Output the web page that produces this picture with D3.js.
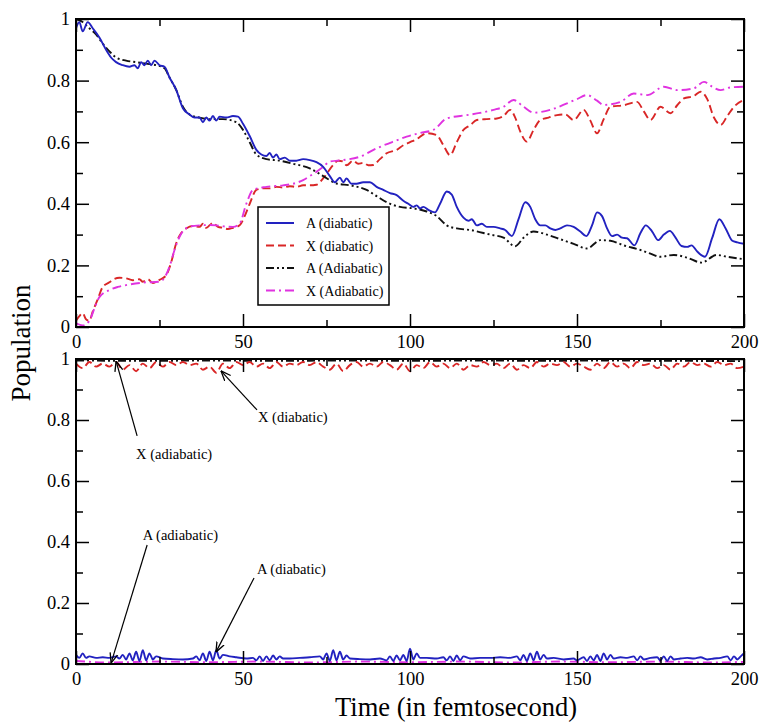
<!DOCTYPE html>
<html>
<head>
<meta charset="utf-8">
<script src="https://cdn.jsdelivr.net/npm/d3@7"></script>
<style>
  body { margin: 0; background: #fff; }
  text { font-family: "Liberation Serif", "Times New Roman", serif; fill: #000; }
</style>
</head>
<body>
<script>
var width = 759, height = 723;

// ---- data (time in fs, population) ----
var xTickValues = [0, 50, 100, 150, 200];
var xTickLabels = ["0", "50", "100", "150", "200"];
var xMinorTicks = [25, 75, 125, 175];
var yTickValues = [0, 0.2, 0.4, 0.6, 0.8, 1];
var yTickLabels = ["0", "0.2", "0.4", "0.6", "0.8", "1"];
var yMinorTicks = [0.1, 0.3, 0.5, 0.7, 0.9];

// top panel
var aDiabaticTop = [[0,0.97],[1,0.99],[2,0.96],[3.5,0.99],[5,0.97],[7,0.94],[9,0.90],[10.5,0.875],[12,0.86],[14,0.85],[16,0.845],[17.5,0.85],[18.5,0.84],[19.5,0.86],[20.5,0.85],[21.5,0.865],[22.5,0.85],[23.5,0.865],[25,0.85],[26.5,0.845],[28,0.81],[30,0.77],[32,0.71],[34,0.69],[35.5,0.68],[37,0.68],[38,0.665],[39,0.68],[40,0.67],[41,0.685],[42,0.67],[43,0.683],[45,0.68],[47,0.685],[48.5,0.683],[50,0.66],[52,0.62],[54,0.575],[55.5,0.56],[57,0.555],[58,0.565],[59,0.55],[60,0.56],[61,0.545],[62.5,0.55],[64,0.54],[66,0.54],[68,0.545],[70,0.542],[72,0.535],[74,0.52],[76,0.49],[77.5,0.47],[79,0.485],[80,0.47],[81,0.482],[82.5,0.465],[84,0.465],[86,0.47],[88,0.47],[90,0.455],[92,0.445],[94,0.435],[96,0.428],[98,0.41],[99.5,0.40],[101,0.39],[102,0.395],[103,0.385],[104,0.39],[105.5,0.38],[107.5,0.372],[109,0.40],[111,0.44],[112.5,0.43],[114,0.39],[116,0.355],[117.5,0.345],[118.5,0.35],[120,0.33],[121.5,0.335],[123,0.325],[125,0.325],[127,0.32],[128.5,0.315],[130.5,0.295],[132.5,0.35],[134.5,0.405],[136,0.39],[137.5,0.35],[139,0.33],[140.5,0.33],[142,0.32],[143.5,0.315],[145,0.32],[147,0.33],[149,0.325],[151,0.31],[152.8,0.295],[154.5,0.33],[156,0.372],[157.5,0.36],[159,0.32],[160.5,0.295],[162,0.30],[163.5,0.29],[165,0.288],[167.2,0.265],[169,0.305],[170.6,0.33],[172.5,0.31],[174.3,0.282],[176,0.30],[177.8,0.312],[179.5,0.29],[181.3,0.263],[183,0.26],[184.3,0.265],[186,0.245],[188.3,0.228],[190.5,0.29],[192.6,0.35],[194.5,0.32],[196.5,0.28],[198,0.275],[200,0.27]];
var xDiabaticTop = [[0,0.02],[1,0.035],[2,0.045],[3,0.025],[4,0.02],[5,0.05],[6.5,0.09],[8,0.13],[10,0.145],[11,0.153],[13,0.16],[15,0.158],[17,0.152],[19,0.155],[20,0.147],[21.5,0.155],[23,0.143],[25,0.153],[27,0.168],[28.5,0.21],[30,0.272],[31.5,0.305],[33,0.32],[35,0.328],[37,0.325],[38,0.335],[39,0.322],[40,0.33],[41,0.338],[42.5,0.325],[44,0.322],[45.5,0.318],[47,0.322],[49,0.33],[50.5,0.36],[52,0.40],[54,0.445],[56,0.45],[58,0.45],[60,0.455],[62,0.453],[64,0.457],[66,0.455],[68,0.46],[70,0.46],[72,0.462],[74.4,0.488],[77,0.526],[78.5,0.54],[80,0.537],[81,0.525],[83,0.54],[84.5,0.53],[86,0.533],[87.5,0.525],[89,0.526],[91,0.545],[93,0.564],[96,0.575],[98,0.59],[100,0.60],[102,0.61],[105,0.629],[108,0.623],[110,0.59],[112,0.558],[114,0.60],[116,0.64],[118,0.655],[120,0.672],[123,0.675],[126,0.677],[128,0.685],[130,0.705],[131.5,0.68],[133,0.635],[135,0.602],[137,0.64],[139,0.672],[141.5,0.68],[144,0.688],[146.5,0.69],[149,0.672],[152,0.705],[154,0.67],[156,0.629],[158,0.675],[160,0.715],[164,0.72],[168,0.731],[170,0.70],[172,0.672],[175,0.715],[178,0.694],[180,0.72],[182,0.742],[185,0.75],[187,0.764],[189,0.74],[191,0.68],[193,0.656],[195,0.685],[197,0.715],[200,0.737]];
var aAdiabaticTop = [[0,1.0],[2,0.99],[4,0.97],[6,0.95],[8,0.92],[10,0.895],[12,0.875],[15,0.865],[18,0.86],[21,0.855],[24,0.85],[26.5,0.84],[28,0.81],[30,0.77],[32,0.715],[34,0.69],[37,0.68],[40,0.675],[44,0.675],[48,0.665],[50,0.64],[52,0.60],[54,0.56],[57,0.545],[61,0.54],[65,0.53],[70,0.515],[74,0.49],[78,0.466],[82,0.46],[87,0.445],[90,0.425],[93,0.405],[97,0.39],[101,0.385],[105,0.375],[108,0.36],[111,0.33],[114,0.32],[118,0.315],[124,0.30],[128,0.29],[131.5,0.262],[134,0.29],[137,0.31],[141,0.30],[145,0.285],[149,0.27],[153,0.255],[157,0.282],[160,0.28],[164,0.265],[169,0.25],[172,0.238],[175,0.228],[179,0.234],[183,0.225],[187.3,0.209],[191.8,0.234],[195,0.228],[200,0.22]];
var xAdiabaticTop = [[0,0.012],[2,0.005],[4,0.02],[5.5,0.06],[7,0.097],[10,0.12],[12.5,0.13],[15,0.136],[20,0.144],[25,0.147],[26.5,0.16],[28,0.196],[29.5,0.25],[31,0.293],[34,0.326],[37,0.33],[40,0.331],[42,0.33],[45,0.326],[47,0.325],[49,0.336],[51,0.40],[53,0.445],[57,0.455],[62,0.46],[65,0.465],[68,0.477],[70,0.49],[72,0.504],[74,0.52],[76,0.537],[80,0.542],[85,0.553],[90,0.58],[95,0.602],[99,0.618],[103,0.63],[107,0.64],[111,0.677],[117,0.688],[121,0.695],[125,0.705],[128,0.715],[131,0.737],[134,0.715],[137,0.696],[142,0.705],[147,0.726],[150,0.74],[153,0.753],[156,0.735],[158,0.721],[163,0.731],[167,0.758],[171,0.753],[176,0.78],[180,0.769],[185,0.775],[188,0.796],[190.5,0.78],[193,0.769],[196,0.778],[200,0.78]];

// bottom panel
var xDiabaticBot = [[0,.985],[2,.97],[4,.99],[6,.975],[8,.985],[10,.975],[12,.99],[14,.965],[16,.98],[18,.96],[20,.985],[22,.97],[24,.99],[26,.975],[28,.99],[30,.98],[32,.99],[34,.98],[36,.985],[38,.965],[40,.975],[42,.955],[44,.985],[46,.97],[48,.99],[50,.98],[52,.99],[54,.975],[56,.985],[58,.97],[60,.99],[62,.975],[64,.985],[66,.98],[68,.99],[70,.98],[72,.99],[74,.975],[76,.965],[78,.985],[80,.96],[82,.98],[84,.99],[86,.975],[88,.985],[90,.975],[92,.99],[94,.98],[96,.965],[98,.985],[100,.96],[102,.98],[104,.97],[106,.99],[108,.975],[110,.985],[112,.97],[114,.985],[116,.965],[118,.98],[120,.975],[122,.99],[124,.98],[126,.985],[128,.97],[130,.985],[132,.965],[134,.98],[136,.97],[138,.99],[140,.975],[142,.985],[144,.98],[146,.99],[148,.975],[150,.985],[152,.975],[154,.965],[156,.985],[158,.97],[160,.99],[162,.975],[164,.985],[166,.97],[168,.99],[170,.98],[172,.985],[174,.97],[176,.98],[178,.965],[180,.985],[182,.975],[184,.99],[186,.98],[188,.985],[190,.975],[192,.99],[194,.98],[196,.985],[198,.97],[200,.975]];
var xAdiabaticBot = [[0,.995],[20,.994],[40,.995],[60,.994],[80,.995],[100,.994],[120,.995],[140,.994],[160,.995],[180,.994],[200,.993]];
var aDiabaticBot = [[0,.03],[1,.02],[2,.035],[3,.02],[4,.025],[6,.02],[8,.022],[10,.02],[12,.025],[13,.018],[14,.03],[15,.015],[16,.035],[17,.012],[18,.04],[19,.01],[20,.045],[21,.012],[22,.035],[23,.015],[24,.025],[26,.018],[29,.016],[32,.015],[35,.018],[36,.025],[37,.012],[38,.035],[39,.01],[40,.04],[41,.012],[42,.045],[43,.018],[44,.03],[46,.025],[48,.022],[51,.018],[53,.02],[54,.012],[55,.025],[56,.01],[57,.025],[58,.012],[59,.028],[60,.015],[61,.025],[62,.018],[64,.018],[67,.02],[70,.022],[73,.025],[74,.015],[75,.035],[76,.01],[77,.045],[78,.012],[79,.04],[80,.015],[81,.028],[82,.018],[85,.016],[88,.015],[91,.018],[93,.012],[94,.025],[95,.01],[96,.028],[97,.012],[98,.03],[99,.01],[100,.05],[101,.015],[102,.035],[103,.02],[105,.02],[108,.018],[110,.022],[111,.012],[112,.025],[113,.01],[114,.028],[115,.012],[116,.025],[118,.018],[121,.02],[124,.02],[127,.022],[130,.02],[132,.025],[133,.012],[134,.03],[135,.01],[136,.035],[137,.012],[138,.04],[139,.015],[140,.03],[141,.018],[143,.02],[146,.015],[149,.018],[150,.012],[152,.022],[153,.01],[154,.025],[155,.012],[156,.03],[157,.01],[158,.035],[159,.015],[160,.03],[161,.018],[163,.022],[165,.02],[167,.025],[168,.012],[169,.025],[170,.015],[172,.02],[174,.022],[175,.012],[176,.025],[177,.01],[178,.025],[179,.015],[181,.018],[183,.02],[185,.018],[187,.022],[189,.015],[191,.018],[193,.02],[195,.025],[196,.012],[197,.025],[198,.015],[199,.025],[200,.035]];
var aAdiabaticBot = [[0,.01],[10,.005],[25,.008],[40,.006],[55,.008],[70,.005],[85,.008],[100,.006],[115,.008],[130,.005],[145,.008],[160,.006],[175,.008],[190,.005],[200,.007]];

var legendLabels = ["A (diabatic)", "X (diabatic)", "A (Adiabatic)", "X (Adiabatic)"];

// annotations in bottom panel: label, text anchor [t, v], arrow from [t, v] to [t, v]
var annotations = [
  {label: "X (adiabatic)", at: [18, 0.672], from: [18.3, 0.748], to: [12, 0.993]},
  {label: "X (diabatic)",  at: [54.5, 0.795], from: [54.2, 0.833], to: [43.4, 0.961]},
  {label: "A (adiabatic)", at: [20, 0.408], from: [21.3, 0.39], to: [10.5, 0.003]},
  {label: "A (diabatic)",  at: [54.2, 0.295], from: [53.3, 0.282], to: [41.9, 0.039]}
];

// ---- styles ----
var styles = {
  aDia: {color: "#2222c0", dash: null},
  xDia: {color: "#d92626", dash: "8,4"},
  aAdia: {color: "#111111", dash: "8,3,2,3,2,3"},
  xAdia: {color: "#e033e0", dash: "9,4,2,4"}
};

var svg = d3.select("body").append("svg")
  .attr("width", width)
  .attr("height", height);

svg.append("defs").append("marker")
  .attr("id", "arrow")
  .attr("viewBox", "0 0 10 10")
  .attr("refX", 10).attr("refY", 5)
  .attr("markerWidth", 10).attr("markerHeight", 10)
  .attr("markerUnits", "userSpaceOnUse")
  .attr("orient", "auto")
  .append("path")
  .attr("d", "M0,1 L10,5 L0,9")
  .attr("fill", "none")
  .attr("stroke", "#000")
  .attr("stroke-width", 1.3);

var x = d3.scaleLinear().domain([0, 200]).range([76, 744]);

function panel(id, y0, y1, series) {
  var y = d3.scaleLinear().domain([0, 1]).range([y1, y0]);
  var g = svg.append("g");

  g.append("clipPath").attr("id", "clip" + id)
    .append("rect")
    .attr("x", x(0)).attr("y", y(1) - 2)
    .attr("width", x(200) - x(0)).attr("height", y(0) - y(1) + 4);

  var line = d3.line()
    .x(function(d) { return x(d[0]); })
    .y(function(d) { return y(d[1]); })
    .curve(d3.curveMonotoneX);

  g.append("g").attr("clip-path", "url(#clip" + id + ")")
    .selectAll("path")
    .data(series)
    .enter()
    .append("path")
    .attr("d", function(d) { return line(d.values); })
    .attr("fill", "none")
    .attr("stroke", function(d) { return styles[d.key].color; })
    .attr("stroke-width", 1.9)
    .attr("stroke-dasharray", function(d) { return styles[d.key].dash; })
    .attr("stroke-linejoin", "round");

  // ticks, pointing inward on all four sides
  function ticks(axis, vals, size, tr, labels) {
    var a = axis.tickValues(vals).tickSize(-size).tickSizeOuter(0);
    if (labels) a.tickFormat(function(d, i) { return labels[i]; }).tickPadding(labels === xTickLabels ? 8 : 6);
    else a.tickFormat("");
    var ag = g.append("g").attr("transform", tr).call(a);
    ag.select(".domain").remove();
    ag.selectAll("line").attr("stroke", "#000").attr("stroke-width", 1.5);
    ag.selectAll("text").attr("font-size", 18.5);
  }
  ticks(d3.axisBottom(x), xTickValues, 13, "translate(0," + y1 + ")", xTickLabels);
  ticks(d3.axisBottom(x), xMinorTicks, 7, "translate(0," + y1 + ")");
  ticks(d3.axisTop(x), xTickValues, 13, "translate(0," + y0 + ")");
  ticks(d3.axisTop(x), xMinorTicks, 7, "translate(0," + y0 + ")");
  ticks(d3.axisLeft(y), yTickValues, 13, "translate(" + x(0) + ",0)", yTickLabels);
  ticks(d3.axisLeft(y), yMinorTicks, 7, "translate(" + x(0) + ",0)");
  ticks(d3.axisRight(y), yTickValues, 13, "translate(" + x(200) + ",0)");
  ticks(d3.axisRight(y), yMinorTicks, 7, "translate(" + x(200) + ",0)");

  g.append("rect")
    .attr("x", x(0)).attr("y", y(1))
    .attr("width", x(200) - x(0)).attr("height", y(0) - y(1))
    .attr("fill", "none").attr("stroke", "#000").attr("stroke-width", 2);

  return y;
}

var yTop = panel("top", 19, 327, [
  {key: "xDia", values: xDiabaticTop},
  {key: "xAdia", values: xAdiabaticTop},
  {key: "aAdia", values: aAdiabaticTop},
  {key: "aDia", values: aDiabaticTop}
]);

var yBot = panel("bot", 359, 664, [
  {key: "aAdia", values: xAdiabaticBot},
  {key: "xDia", values: xDiabaticBot},
  {key: "xAdia", values: aAdiabaticBot},
  {key: "aDia", values: aDiabaticBot}
]);

// legend in top panel
var legend = svg.append("g").attr("transform", "translate(258,207)");
legend.append("rect")
  .attr("width", 131).attr("height", 98)
  .attr("fill", "#fff").attr("stroke", "#000").attr("stroke-width", 1.5);
var legendKeys = ["aDia", "xDia", "aAdia", "xAdia"];
legendKeys.forEach(function(k, i) {
  var yy = 16 + i * 22.5;
  legend.append("line")
    .attr("x1", 8).attr("x2", 36).attr("y1", yy).attr("y2", yy)
    .attr("stroke", styles[k].color).attr("stroke-width", 2)
    .attr("stroke-dasharray", styles[k].dash);
  legend.append("text")
    .attr("x", 48).attr("y", yy + 5)
    .attr("font-size", 14)
    .text(legendLabels[i]);
});

// annotations in bottom panel
annotations.forEach(function(a) {
  svg.append("line")
    .attr("x1", x(a.from[0])).attr("y1", yBot(a.from[1]))
    .attr("x2", x(a.to[0])).attr("y2", yBot(a.to[1]))
    .attr("stroke", "#000").attr("stroke-width", 1.2)
    .attr("marker-end", "url(#arrow)");
  svg.append("text")
    .attr("x", x(a.at[0])).attr("y", yBot(a.at[1]))
    .attr("font-size", 14.5)
    .text(a.label);
});

// axis titles
svg.append("text")
  .attr("x", 456).attr("y", 716)
  .attr("text-anchor", "middle")
  .attr("font-size", 26.5)
  .text("Time (in femtosecond)");

svg.append("text")
  .attr("transform", "translate(30,343) rotate(-90)")
  .attr("text-anchor", "middle")
  .attr("font-size", 27)
  .text("Population");
</script>
</body>
</html>
